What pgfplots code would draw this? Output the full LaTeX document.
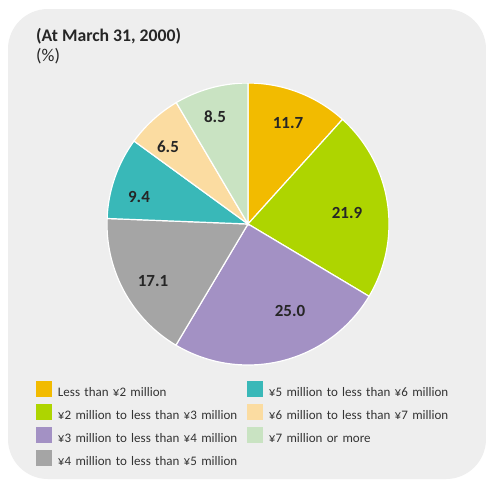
\documentclass[border=0pt]{standalone}
\usepackage{fontspec}
\setmainfont{Carlito}
\usepackage{pgfplots}
\pgfplotsset{compat=1.18}
\definecolor{bg}{HTML}{EEEEEE}
\definecolor{c1}{HTML}{F2BB00}
\definecolor{c2}{HTML}{AED500}
\definecolor{c3}{HTML}{A391C4}
\definecolor{c4}{HTML}{A5A5A5}
\definecolor{c5}{HTML}{39B8B8}
\definecolor{c6}{HTML}{FBDCA1}
\definecolor{c7}{HTML}{C9E3C2}
\definecolor{txt}{HTML}{333333}
\begin{document}
\begin{tikzpicture}
\fill[white] (0,0) rectangle (486pt,-491pt);
\path[use as bounding box] (0,0) rectangle (486pt,-491pt);
\fill[bg, rounded corners=40pt] (8pt,-9pt) rectangle (486pt,-479pt);
\node[anchor=base west, font=\bfseries\fontsize{17.7}{21}\selectfont, text=black!85, inner sep=0] at (36pt,-41.5pt) {(At March 31, 2000)};
\node[anchor=base west, font=\fontsize{18}{21}\selectfont, text=black!85, inner sep=0] at (36pt,-61.5pt) {(\%)};
\begin{axis}[at={(107pt,-365pt)}, anchor=south west, width=282pt, height=282pt, scale only axis, hide axis,
  xmin=-141, xmax=141, ymin=-141, ymax=141,
  legend image code/.code={\fill[#1, draw=none] (0pt,-4pt) rectangle (16pt,12pt);},
  transpose legend, legend columns=4, legend cell align=left,
  legend style={at={(axis cs:-212,-157)}, anchor=north west, draw=none, fill=none, inner sep=0pt, outer sep=0pt,
    row sep=3.8pt, column sep=4pt, font=\fontsize{13}{15}\selectfont, text=txt,
    /tikz/every even column/.append style={text width=183pt, align=left}},
  slice/.style={draw=white, line width=1.2pt, samples=60, variable=\t},
]
\addplot[slice, fill=c1, domain=0:11.7] ({141*cos(90-3.5964*\t)},{141*sin(90-3.5964*\t)}) -- (axis cs:0,0) -- cycle;
\addlegendentry{Less than ¥2 million}
\addplot[slice, fill=c2, domain=11.7:33.6] ({141*cos(90-3.5964*\t)},{141*sin(90-3.5964*\t)}) -- (axis cs:0,0) -- cycle;
\addlegendentry{¥2 million to less than ¥3 million}
\addplot[slice, fill=c3, domain=33.6:58.6] ({141*cos(90-3.5964*\t)},{141*sin(90-3.5964*\t)}) -- (axis cs:0,0) -- cycle;
\addlegendentry{¥3 million to less than ¥4 million}
\addplot[slice, fill=c4, domain=58.6:75.7] ({141*cos(90-3.5964*\t)},{141*sin(90-3.5964*\t)}) -- (axis cs:0,0) -- cycle;
\addlegendentry{¥4 million to less than ¥5 million}
\addplot[slice, fill=c5, domain=75.7:85.1] ({141*cos(90-3.5964*\t)},{141*sin(90-3.5964*\t)}) -- (axis cs:0,0) -- cycle;
\addlegendentry{¥5 million to less than ¥6 million}
\addplot[slice, fill=c6, domain=85.1:91.6] ({141*cos(90-3.5964*\t)},{141*sin(90-3.5964*\t)}) -- (axis cs:0,0) -- cycle;
\addlegendentry{¥6 million to less than ¥7 million}
\addplot[slice, fill=c7, domain=91.6:100.1] ({141*cos(90-3.5964*\t)},{141*sin(90-3.5964*\t)}) -- (axis cs:0,0) -- cycle;
\addlegendentry{¥7 million or more}
\tikzset{lbl/.style={font=\bfseries\fontsize{17}{20}\selectfont, text=black!85}}
\node[lbl] at (axis cs:40,101) {11.7};
\node[lbl] at (axis cs:99,11) {21.9};
\node[lbl] at (axis cs:42,-87) {25.0};
\node[lbl] at (axis cs:-95,-57) {17.1};
\node[lbl] at (axis cs:-109,27) {9.4};
\node[lbl] at (axis cs:-80,77) {6.5};
\node[lbl] at (axis cs:-33,107) {8.5};
\end{axis}
\end{tikzpicture}
\end{document}
